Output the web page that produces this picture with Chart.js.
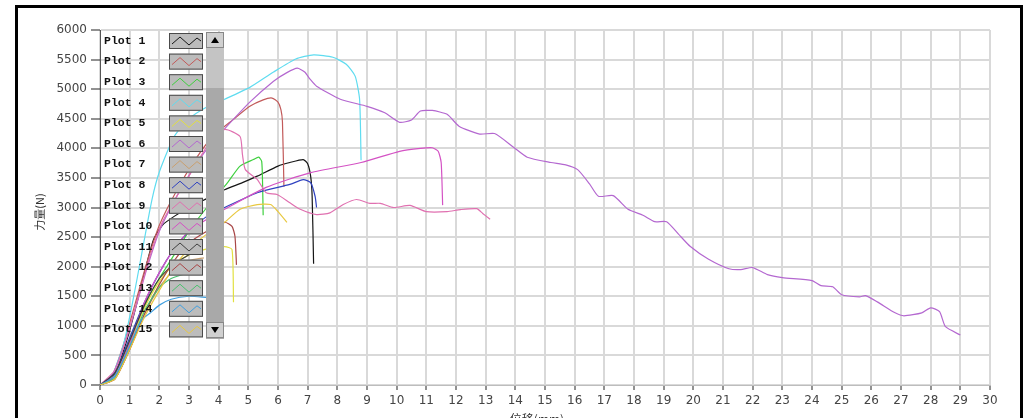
<!DOCTYPE html>
<html>
<head>
<meta charset="utf-8">
<script src="https://cdn.jsdelivr.net/npm/chart.js@4.4.0/dist/chart.umd.min.js"></script>
<style>
  html, body { margin: 0; padding: 0; background: #fff; }
  canvas { display: block; }
</style>
</head>
<body>
<canvas id="forceChart" width="1033" height="418"></canvas>
<script>
// x ticks (displacement, mm) and y ticks (force, N)
const xTicks = [0,1,2,3,4,5,6,7,8,9,10,11,12,13,14,15,16,17,18,19,20,21,22,23,24,25,26,27,28,29,30];
const yTicks = [0,500,1000,1500,2000,2500,3000,3500,4000,4500,5000,5500,6000];

const plotNames = ['Plot 1','Plot 2','Plot 3','Plot 4','Plot 5','Plot 6','Plot 7','Plot 8',
                   'Plot 9','Plot 10','Plot 11','Plot 12','Plot 13','Plot 14','Plot 15'];
const plotColors = ['#151515','#c25a5a','#3fd03f','#5fdcf0','#e2e040','#b468d0','#c9a070','#3042c0',
                    '#e070b0','#d452c4','#404040','#a84646','#4cc070','#3f9fe0','#e8c840'];

// each series: [displacement, force]
const plot1 = [[0,0],[0.3,60],[0.6,300],[0.9,750],[1.2,1300],[1.5,1900],[1.8,2450],[2.1,2700],[2.5,2850],[3,3000],[3.6,3150],[4.2,3300],[4.8,3420],[5.3,3530],[6.0,3700],[6.4,3760],[6.85,3810],[7.0,3740],[7.1,3530],[7.15,3200],[7.2,2050]];
const plot2 = [[0,0],[0.4,150],[0.8,700],[1.2,1400],[1.6,2100],[2.0,2700],[2.6,3300],[3.2,3800],[3.8,4200],[4.5,4490],[5.05,4710],[5.5,4820],[5.8,4850],[6.0,4780],[6.1,4650],[6.15,4450],[6.2,3350]];
const plot3 = [[0,0],[0.4,100],[0.8,500],[1.2,1000],[1.6,1450],[2.0,1800],[2.5,2200],[3,2600],[3.6,3000],[4.3,3420],[4.72,3700],[5.17,3810],[5.35,3850],[5.45,3780],[5.48,3400],[5.5,2870]];
const plot4 = [[0,0],[0.4,150],[0.8,700],[1.1,1400],[1.4,2200],[1.75,3130],[2.0,3600],[2.5,4200],[3,4500],[3.6,4700],[4.2,4830],[5.05,5030],[5.85,5290],[6.6,5510],[7.2,5580],[7.85,5540],[8.3,5420],[8.6,5220],[8.75,4830],[8.8,3800]];
const plot5 = [[0,0],[0.5,150],[1,700],[1.5,1300],[2,1750],[2.5,2050],[3,2200],[3.6,2300],[4.2,2340],[4.45,2290],[4.5,1400]];
const plot6 = [[0,0],[0.4,150],[0.8,650],[1.2,1300],[1.6,2000],[2,2600],[2.6,3200],[3.2,3700],[3.7,4050],[4.2,4330],[5.05,4780],[5.85,5135],[6.3,5280],[6.65,5355],[6.9,5290],[7.08,5170],[7.3,5050],[8.1,4830],[9.0,4710],[9.6,4600],[10.1,4440],[10.5,4480],[10.8,4630],[11.2,4640],[11.7,4575],[12.1,4375],[12.8,4240],[13.3,4250],[13.95,4015],[14.4,3850],[15.2,3760],[15.7,3720],[16.1,3640],[16.5,3400],[16.8,3190],[17.3,3200],[17.8,2970],[18.3,2870],[18.7,2760],[19.1,2760],[19.5,2550],[19.9,2340],[20.5,2130],[21.2,1965],[21.6,1950],[22.0,1985],[22.5,1865],[23.0,1815],[24.0,1765],[24.3,1680],[24.7,1660],[25.0,1525],[25.6,1490],[25.8,1510],[26.2,1405],[26.8,1220],[27.1,1170],[27.7,1220],[28.0,1305],[28.3,1240],[28.5,985],[29.0,845]];
const plot7 = [[0,0],[0.5,100],[1,600],[1.5,1200],[2,1650],[2.5,1950],[3,2100],[3.5,2150]];
const plot8 = [[0,0],[0.5,200],[1,800],[1.5,1400],[2,1900],[2.5,2300],[3,2600],[3.6,2850],[4.2,3000],[5.3,3250],[6.4,3390],[6.85,3470],[7.1,3420],[7.25,3190],[7.3,3000]];
const plot9 = [[0,0],[0.5,250],[0.9,800],[1.3,1500],[1.7,2200],[2.1,2750],[2.6,3200],[3.2,3700],[3.7,4100],[4.2,4320],[4.72,4200],[4.8,3900],[4.9,3640],[5.3,3475],[5.6,3250],[5.97,3220],[6.4,3080],[6.75,2970],[7.3,2880],[7.75,2910],[8.2,3050],[8.65,3135],[9.1,3070],[9.45,3070],[9.9,3000],[10.45,3035],[11.0,2930],[11.7,2930],[12.15,2965],[12.7,2980],[12.9,2900],[13.15,2800]];
const plot10 = [[0,0],[0.5,150],[1,700],[1.5,1400],[2,1900],[2.5,2300],[3,2600],[3.6,2800],[4.2,2970],[5.6,3340],[7.1,3590],[8.8,3760],[10.1,3950],[10.8,4000],[11.2,4010],[11.4,3950],[11.5,3760],[11.55,3040]];
const plot11 = [[0,0],[0.5,200],[1,750],[1.5,1350],[2,1800],[2.5,2050],[3,2200]];
const plot12 = [[0,0],[0.5,100],[1,600],[1.5,1200],[2,1700],[2.5,2100],[3,2400],[3.6,2600],[4.2,2750],[4.45,2680],[4.55,2510],[4.6,2030]];
const plot13 = [[0,0],[0.5,120],[1,650],[1.5,1250],[2,1650],[2.4,1800],[3,1900]];
const plot14 = [[0,0],[0.5,150],[1,650],[1.4,1100],[1.7,1220],[2.0,1350],[2.4,1450],[3,1500],[3.6,1480]];
const plot15 = [[0,0],[0.5,100],[1,600],[1.5,1150],[2,1600],[2.5,2000],[3,2300],[3.6,2550],[4.2,2750],[4.72,2970],[5.3,3050],[5.75,3050],[6.0,2930],[6.3,2750]];

const allPlots = [plot1,plot2,plot3,plot4,plot5,plot6,plot7,plot8,plot9,plot10,plot11,plot12,plot13,plot14,plot15];

// draw in reverse so plot 1 ends up on top
const datasets = allPlots.map((pts, i) => ({
  label: plotNames[i],
  data: pts.map(p => ({ x: p[0], y: p[1] })),
  borderColor: plotColors[i],
  borderWidth: 1.2,
  pointRadius: 0,
  tension: 0.2,
  fill: false,
  order: 15 - i
}));

// frame, axis titles and the LabVIEW-like plot legend
const decor = {
  id: 'decor',
  beforeDraw(chart) {
    const c = chart.ctx;
    c.save();
    c.fillStyle = '#ffffff';
    c.fillRect(0, 0, chart.width, chart.height);
    c.strokeStyle = '#000';
    c.lineWidth = 3;
    c.strokeRect(16.5, 6.5, 1005, 430);
    c.restore();
  },
  afterDraw(chart) {
    const c = chart.ctx;
    c.save();
    // axis titles
    c.fillStyle = '#333';
    c.font = '12px "Noto Sans CJK SC", "DejaVu Sans", sans-serif';
    c.textAlign = 'center';
    c.textBaseline = 'middle';
    c.fillText('位移(mm)', 537, 419);
    c.translate(40, 212);
    c.rotate(-Math.PI / 2);
    c.font = '11px "Noto Sans CJK SC", "DejaVu Sans", sans-serif';
    c.fillText('力量(N)', 0, 0);
    c.restore();

    c.save();
    const top = 33, step = 20.6;
    plotNames.forEach((name, i) => {
      const y = top + i * step;
      c.fillStyle = '#111';
      c.font = 'bold 11.5px "Liberation Mono", "DejaVu Sans Mono", monospace';
      c.textAlign = 'left';
      c.textBaseline = 'middle';
      c.fillText(name, 104, y + 8);
      // sample box
      c.fillStyle = '#bcbcbc';
      c.fillRect(169, y, 34, 16);
      c.strokeStyle = '#4a4a4a';
      c.lineWidth = 1;
      c.strokeRect(169.5, y + 0.5, 33, 15);
      c.strokeStyle = plotColors[i];
      c.lineWidth = 1;
      c.beginPath();
      c.moveTo(172, y + 11);
      c.lineTo(180, y + 4);
      c.lineTo(189, y + 12);
      c.lineTo(197, y + 5);
      c.lineTo(201, y + 8);
      c.stroke();
    });
    // scrollbar
    const sx = 206, sw = 18;
    c.fillStyle = '#a9a9a9';
    c.fillRect(sx, 32, sw, 307);
    c.fillStyle = '#c4c4c4';
    c.fillRect(sx, 48, sw, 40);
    c.fillStyle = '#d0d0d0';
    c.fillRect(sx, 32, sw, 16);
    c.fillRect(sx, 322, sw, 16);
    c.strokeStyle = '#888';
    c.strokeRect(sx + 0.5, 32.5, sw - 1, 15);
    c.strokeRect(sx + 0.5, 322.5, sw - 1, 15);
    c.fillStyle = '#000';
    c.beginPath();
    c.moveTo(sx + 9, 37); c.lineTo(sx + 13, 43); c.lineTo(sx + 5, 43); c.closePath(); c.fill();
    c.beginPath();
    c.moveTo(sx + 5, 327); c.lineTo(sx + 13, 327); c.lineTo(sx + 9, 333); c.closePath(); c.fill();
    c.restore();
  }
};

const ctx = document.getElementById('forceChart').getContext('2d');
const forceChart = new Chart(ctx, {
  type: 'line',
  data: { datasets: datasets },
  plugins: [decor],
  options: {
    responsive: false,
    animation: false,
    devicePixelRatio: 1,
    layout: { padding: { left: 0, top: 30, right: 43, bottom: 0 } },
    plugins: { legend: { display: false }, tooltip: { enabled: false } },
    scales: {
      x: {
        type: 'linear',
        min: 0, max: 30,
        afterFit: s => { s.height = 33; },
        afterBuildTicks: s => { s.ticks = xTicks.map(v => ({ value: v })); },
        grid: { color: '#d9d9d9', lineWidth: 2, tickColor: '#222', tickLength: 5, tickWidth: 1 },
        border: { display: true, color: '#bdbdbd', width: 1 },
        ticks: { color: '#444', font: { family: 'DejaVu Sans', size: 12 }, padding: 4, maxRotation: 0, autoSkip: false,
                 callback: v => String(v) }
      },
      y: {
        type: 'linear',
        min: 0, max: 6000,
        afterFit: s => { s.width = 100; },
        afterBuildTicks: s => { s.ticks = yTicks.map(v => ({ value: v })); },
        grid: { color: '#d9d9d9', lineWidth: 2, tickColor: '#222', tickLength: 9, tickWidth: 1 },
        border: { display: true, color: '#555', width: 1 },
        ticks: { color: '#444', font: { family: 'DejaVu Sans', size: 12 }, padding: 4,
                 callback: v => String(v) }
      }
    }
  }
});
</script>
</body>
</html>
